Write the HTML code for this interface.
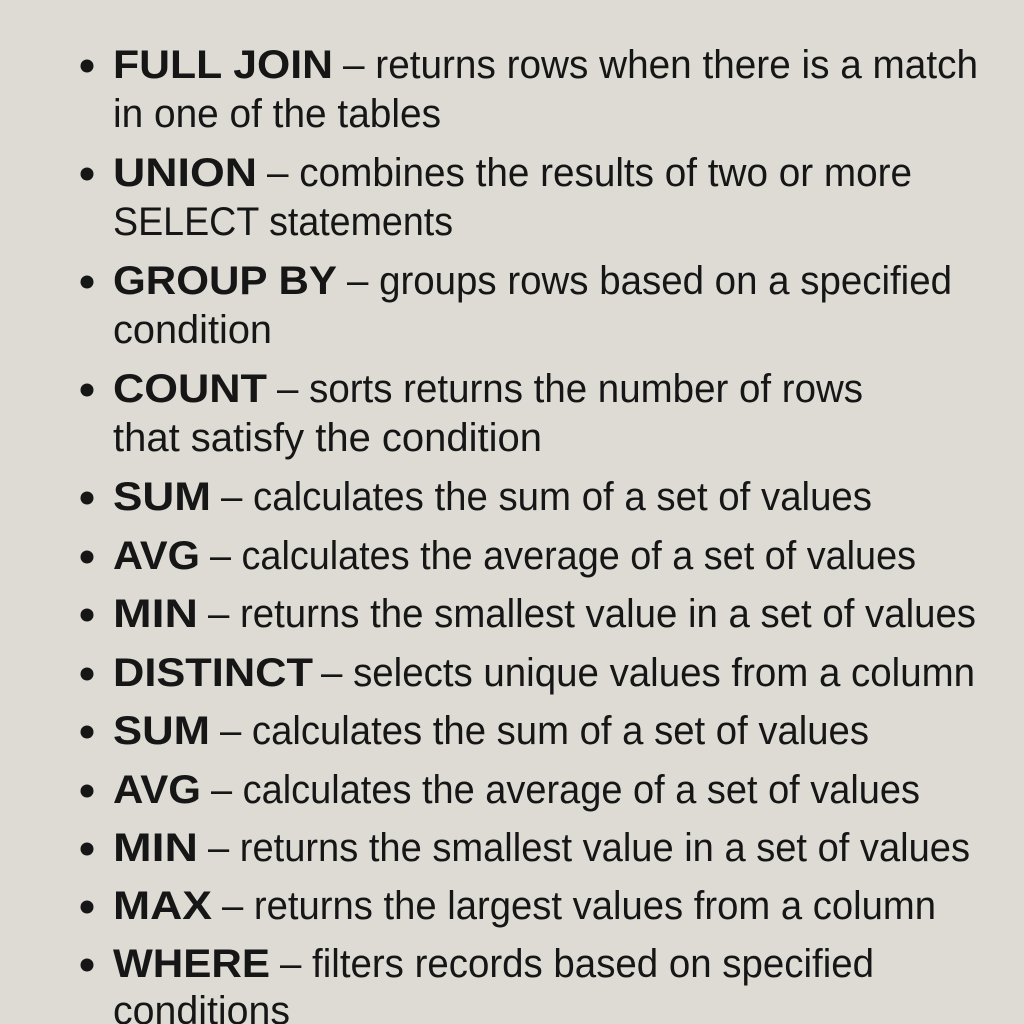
<!DOCTYPE html>
<html><head><meta charset="utf-8">
<style>
html,body{margin:0;padding:0;background:#dddbd4;}
svg{display:block;}
text{font-family:"Liberation Sans","DejaVu Sans",sans-serif;font-size:40px;fill:#161616;}
.b{font-weight:bold;}
</style></head>
<body>
<svg width="1024" height="1024" viewBox="0 0 1024 1024">
<rect width="1024" height="1024" fill="#dddbd4"/>
<g>
<circle cx="87" cy="66" r="6.5" fill="#161616"/>
<text class="b" x="113" y="78" textLength="220" lengthAdjust="spacingAndGlyphs">FULL JOIN</text>
<text x="343" y="78" textLength="635" lengthAdjust="spacingAndGlyphs">– returns rows when there is a match</text>
<text x="113" y="127" textLength="328" lengthAdjust="spacingAndGlyphs">in one of the tables</text></g>
<g>
<circle cx="87" cy="174" r="6.5" fill="#161616"/>
<text class="b" x="113" y="186" textLength="144" lengthAdjust="spacingAndGlyphs">UNION</text>
<text x="267" y="186" textLength="645" lengthAdjust="spacingAndGlyphs">– combines the results of two or more</text>
<text x="113" y="235" textLength="340" lengthAdjust="spacingAndGlyphs">SELECT statements</text></g>
<g>
<circle cx="87" cy="282" r="6.5" fill="#161616"/>
<text class="b" x="113" y="294" textLength="224" lengthAdjust="spacingAndGlyphs">GROUP BY</text>
<text x="347" y="294" textLength="605" lengthAdjust="spacingAndGlyphs">– groups rows based on a specified</text>
<text x="113" y="343" textLength="159" lengthAdjust="spacingAndGlyphs">condition</text></g>
<g>
<circle cx="87" cy="390" r="6.5" fill="#161616"/>
<text class="b" x="113" y="402" textLength="154" lengthAdjust="spacingAndGlyphs">COUNT</text>
<text x="277" y="402" textLength="586" lengthAdjust="spacingAndGlyphs">– sorts returns the number of rows</text>
<text x="113" y="451" textLength="429" lengthAdjust="spacingAndGlyphs">that satisfy the condition</text></g>
<g>
<circle cx="87" cy="498" r="6.5" fill="#161616"/>
<text class="b" x="113" y="510" textLength="98" lengthAdjust="spacingAndGlyphs">SUM</text>
<text x="221" y="510" textLength="651" lengthAdjust="spacingAndGlyphs">– calculates the sum of a set of values</text></g>
<g>
<circle cx="87" cy="557" r="6.5" fill="#161616"/>
<text class="b" x="113" y="569" textLength="87" lengthAdjust="spacingAndGlyphs">AVG</text>
<text x="210" y="569" textLength="706" lengthAdjust="spacingAndGlyphs">– calculates the average of a set of values</text></g>
<g>
<circle cx="87" cy="615" r="6.5" fill="#161616"/>
<text class="b" x="113" y="627" textLength="85" lengthAdjust="spacingAndGlyphs">MIN</text>
<text x="208" y="627" textLength="768" lengthAdjust="spacingAndGlyphs">– returns the smallest value in a set of values</text></g>
<g>
<circle cx="87" cy="674" r="6.5" fill="#161616"/>
<text class="b" x="113" y="686" textLength="200" lengthAdjust="spacingAndGlyphs">DISTINCT</text>
<text x="321" y="686" textLength="654" lengthAdjust="spacingAndGlyphs">– selects unique values from a column</text></g>
<g>
<circle cx="87" cy="732" r="6.5" fill="#161616"/>
<text class="b" x="113" y="744" textLength="97" lengthAdjust="spacingAndGlyphs">SUM</text>
<text x="220" y="744" textLength="649" lengthAdjust="spacingAndGlyphs">– calculates the sum of a set of values</text></g>
<g>
<circle cx="87" cy="791" r="6.5" fill="#161616"/>
<text class="b" x="113" y="803" textLength="88" lengthAdjust="spacingAndGlyphs">AVG</text>
<text x="211" y="803" textLength="709" lengthAdjust="spacingAndGlyphs">– calculates the average of a set of values</text></g>
<g>
<circle cx="87" cy="849" r="6.5" fill="#161616"/>
<text class="b" x="113" y="861" textLength="85" lengthAdjust="spacingAndGlyphs">MIN</text>
<text x="208" y="861" textLength="762" lengthAdjust="spacingAndGlyphs">– returns the smallest value in a set of values</text></g>
<g>
<circle cx="87" cy="907" r="6.5" fill="#161616"/>
<text class="b" x="113" y="919" textLength="99" lengthAdjust="spacingAndGlyphs">MAX</text>
<text x="222" y="919" textLength="714" lengthAdjust="spacingAndGlyphs">– returns the largest values from a column</text></g>
<g>
<circle cx="87" cy="965" r="6.5" fill="#161616"/>
<text class="b" x="113" y="977" textLength="157" lengthAdjust="spacingAndGlyphs">WHERE</text>
<text x="280" y="977" textLength="594" lengthAdjust="spacingAndGlyphs">– filters records based on specified</text>
<text x="113" y="1024" textLength="177" lengthAdjust="spacingAndGlyphs">conditions</text></g>
</svg>
</body></html>
